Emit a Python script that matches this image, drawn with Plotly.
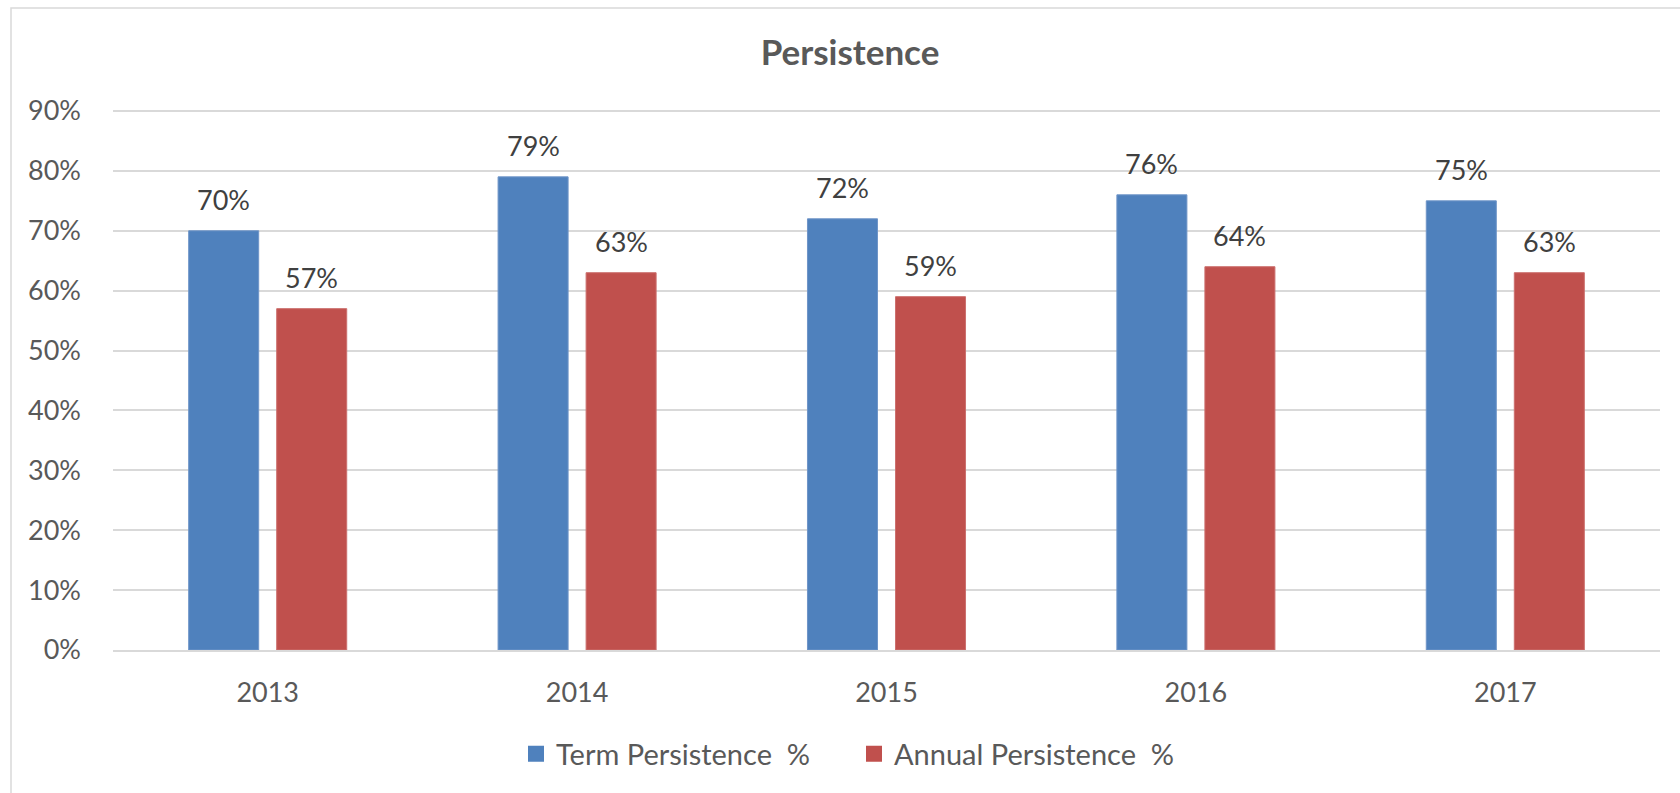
import plotly.graph_objects as go

years = ["2013", "2014", "2015", "2016", "2017"]
term_persistence = [0.70, 0.79, 0.72, 0.76, 0.75]
annual_persistence = [0.57, 0.63, 0.59, 0.64, 0.63]
series_names = ["Term Persistence \u00a0%", "Annual Persistence \u00a0%"]
y_ticks = [0, 0.1, 0.2, 0.3, 0.4, 0.5, 0.6, 0.7, 0.8, 0.9]

BLUE = "#4F81BD"
RED = "#C0504D"
FONT = "Lato"
BARGAP = 0.431
BARGROUPGAP = 0.2045

fig = go.Figure()
for name, vals, col, edge in [(series_names[0], term_persistence, BLUE, "#6F95C8"),
                              (series_names[1], annual_persistence, RED, "#CC706E")]:
    fig.add_trace(go.Bar(x=years, y=vals, name=name, showlegend=False,
                         marker=dict(color=col, line=dict(color=edge, width=1)),
                         hoverinfo="skip"))
    fig.add_trace(go.Scatter(x=[None], y=[None], mode="markers", name=name,
                             marker=dict(symbol="square", size=16, color=col)))

annotations = []
slot_off = (1 - BARGAP) / 4
for i, y in enumerate(years):
    for vals, sign in [(term_persistence, -1), (annual_persistence, 1)]:
        annotations.append(dict(x=i + sign * slot_off, y=vals[i], xref="x", yref="y",
                                text=f"{round(vals[i]*100)}%", showarrow=False,
                                yanchor="bottom", yshift=13,
                                font=dict(family=FONT, size=27, color="#404040")))

fig.update_layout(
    width=1680, height=793,
    margin=dict(l=113, r=20, t=108, b=143),
    paper_bgcolor="white", plot_bgcolor="white",
    barmode="group", bargap=BARGAP, bargroupgap=BARGROUPGAP,
    title=dict(text="<b>Persistence</b>", x=850/1680, xref="container", xanchor="center",
               y=1 - 53/793, yref="container", yanchor="middle",
               font=dict(family=FONT, size=35, color="#595959")),
    legend=dict(orientation="h", x=854/1680, xref="container", xanchor="center",
                y=1 - 754/793, yref="container", yanchor="middle",
                entrywidth=293, entrywidthmode="pixels",
                font=dict(family=FONT, size=29, color="#595959"),
                itemclick=False, itemdoubleclick=False),
    annotations=annotations,
    font=dict(family=FONT, color="#595959"),
)
fig.update_yaxes(range=[0, 0.905], tickvals=y_ticks, tickformat=".0%",
                 showgrid=True, gridcolor="#D9D9D9", gridwidth=1.5,
                 zeroline=False, showline=False, ticks="",
                 ticklabelstandoff=31,
                 tickfont=dict(family=FONT, size=27, color="#595959"))
fig.update_xaxes(type="category", showgrid=False, showline=True, linecolor="#D9D9D9",
                 linewidth=1.5, ticks="", ticklabelstandoff=18,
                 tickfont=dict(family=FONT, size=27, color="#595959"))

# outer chart border (top and left edges visible)
fig.add_shape(type="rect", xref="paper", yref="paper",
              x0=(11 - 113) / 1547, x1=(1700 - 113) / 1547,
              y0=(650 - 820) / 542, y1=(650 - 8) / 542,
              line=dict(color="#D9D9D9", width=1.5), layer="below")

fig.write_html("out.html", config={"displayModeBar": False},
               post_script="document.body.style.margin='0';document.body.style.overflow='hidden';")
